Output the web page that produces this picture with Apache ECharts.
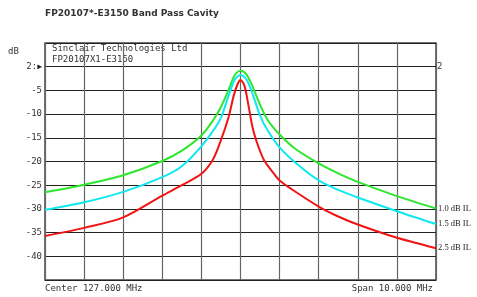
<!DOCTYPE html>
<html>
<head>
<meta charset="utf-8">
<script src="https://cdn.jsdelivr.net/npm/echarts@6/dist/echarts.min.js"></script>
<style>
  html, body { margin: 0; padding: 0; background: #fff; }
  #chart { width: 477px; height: 297px; }
</style>
</head>
<body>
<div id="chart"></div>
<script>
// frequency (MHz) / response (dB)
var freqGreen = [122, 123, 124, 125, 125.5, 126, 126.3, 126.5, 126.7, 126.85, 127, 127.15, 127.3, 127.5, 127.7, 128, 128.4, 129, 129.5, 130, 131, 132];
var dbGreen   = [-26.5, -24.9, -22.9, -19.9, -17.7, -14.5, -11.3, -8.5, -4.8, -1.8, -0.85, -1.6, -4.0, -8.0, -11.3, -14.3, -17.3, -20.4, -22.5, -24.3, -27.3, -29.9];

var freqCyan = [122, 123, 124, 125, 125.5, 126, 126.3, 126.5, 126.7, 126.85, 127, 127.15, 127.3, 127.5, 127.7, 128, 128.4, 129, 129.5, 130, 131, 132];
var dbCyan   = [-30.2, -28.6, -26.4, -23.3, -21.0, -16.8, -13.5, -10.8, -6.0, -2.8, -1.75, -2.7, -5.5, -10.3, -13.5, -17.0, -20.2, -24.0, -26.0, -27.6, -30.5, -33.2];

var freqRed = [122, 123, 124, 125, 125.5, 126, 126.3, 126.5, 126.7, 126.83, 126.93, 127, 127.1, 127.2, 127.3, 127.4, 127.6, 127.85, 128, 128.3, 129, 129.5, 130, 131, 132];
var dbRed   = [-35.7, -34.0, -31.8, -27.2, -25.0, -22.6, -19.5, -15.5, -10.5, -6.0, -3.6, -2.8, -4.0, -8.0, -12.5, -15.5, -19.7, -22.5, -24.0, -25.8, -29.5, -31.6, -33.3, -36.1, -38.3];

var seriesNames = ['1.0 dB IL', '1.5 dB IL', '2.5 dB IL'];
var yTicks = [0, -5, -10, -15, -20, -25, -30, -35, -40];

function pairs(xs, ys) {
  return xs.map(function (x, i) { return [x, ys[i]]; });
}

var mono = '"DejaVu Sans Mono", monospace';

function makeSeries(name, data, color) {
  return {
    name: name,
    type: 'line',
    data: data,
    smooth: 0.3,
    showSymbol: false,
    lineStyle: { color: color, width: 2 },
    endLabel: {
      show: true,
      formatter: name,
      color: '#222',
      fontFamily: '"Liberation Serif", serif',
      fontSize: 8.5,
      distance: 2
    },
    z: 3
  };
}

var chart = echarts.init(document.getElementById('chart'));
chart.setOption({
  animation: false,
  backgroundColor: '#fff',
  grid: { left: 45, right: 41, top: 43, bottom: 17, show: true, borderColor: '#444', borderWidth: 1.5 },
  xAxis: {
    type: 'value',
    min: 122,
    max: 132,
    interval: 1,
    axisLine: { show: false },
    axisTick: { show: false },
    axisLabel: { show: false },
    splitLine: { show: true, lineStyle: { color: '#666', width: 1.2 } }
  },
  yAxis: {
    type: 'value',
    min: -45,
    max: 5,
    interval: 5,
    axisLine: { show: false },
    axisTick: { show: false },
    splitLine: { show: true, lineStyle: { color: '#222', width: 1.2 } },
    axisLabel: {
      margin: 3,
      fontFamily: mono,
      fontSize: 9,
      color: '#333',
      formatter: function (v) {
        if (yTicks.indexOf(v) < 0) return '';
        if (v === 0) return '2:{arr|▶}';
        return String(v);
      },
      rich: { arr: { fontSize: 8, color: '#222' } }
    }
  },
  series: [
    makeSeries(seriesNames[0], pairs(freqGreen, dbGreen), '#2ee62e'),
    makeSeries(seriesNames[1], pairs(freqCyan, dbCyan), '#10e8f0'),
    makeSeries(seriesNames[2], pairs(freqRed, dbRed), '#f01414')
  ],
  graphic: [
    { type: 'text', left: 45, top: 9, style: { text: 'FP20107*-E3150 Band Pass Cavity', font: 'bold 9px "DejaVu Sans"', fill: '#333' } },
    { type: 'text', left: 8, top: 47, style: { text: 'dB', font: '9px ' + mono, fill: '#333' } },
    { type: 'text', left: 52, top: 44, style: { text: 'Sinclair Technologies Ltd', font: '9px ' + mono, fill: '#333' } },
    { type: 'text', left: 52, top: 55, style: { text: 'FP20107X1-E3150', font: '9px ' + mono, fill: '#333' } },
    { type: 'text', left: 437, top: 62, style: { text: '2', font: '9px ' + mono, fill: '#333' } },
    { type: 'text', left: 45, top: 284, style: { text: 'Center 127.000 MHz', font: '9px ' + mono, fill: '#333' } },
    { type: 'text', right: 44, top: 284, style: { text: 'Span 10.000 MHz', font: '9px ' + mono, fill: '#333' } }
  ]
});
</script>
</body>
</html>
